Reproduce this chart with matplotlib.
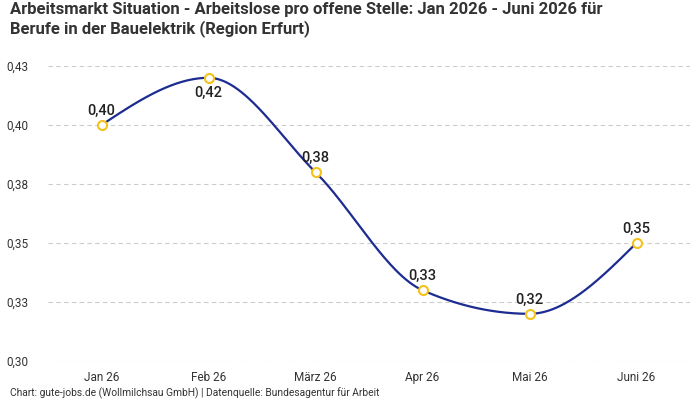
import matplotlib
matplotlib.use("Agg")
import matplotlib.pyplot as plt
import numpy as np

categories = ["Jan 26", "Feb 26", "März 26", "Apr 26", "Mai 26", "Juni 26"]
values = [0.400, 0.420, 0.380, 0.330, 0.320, 0.350]
labels = ["0,40", "0,42", "0,38", "0,33", "0,32", "0,35"]
yticks = [0.300, 0.325, 0.350, 0.375, 0.400, 0.425]
ytick_labels = ["0,30", "0,33", "0,35", "0,38", "0,40", "0,43"]
title = "Arbeitsmarkt Situation - Arbeitslose pro offene Stelle: Jan 2026 - Juni 2026 für\nBerufe in der Bauelektrik (Region Erfurt)"
footer = "Chart: gute-jobs.de (Wollmilchsau GmbH) | Datenquelle: Bundesagentur für Arbeit"

plt.rcParams['font.family'] = ['Roboto', 'DejaVu Sans']


def monotone(x, y, n=60):
    x = np.asarray(x, float); y = np.asarray(y, float)
    h = np.diff(x); s = np.diff(y) / h
    m = np.zeros_like(y)
    for i in range(1, len(y) - 1):
        p = (s[i-1] * h[i] + s[i] * h[i-1]) / (h[i-1] + h[i])
        m[i] = (np.sign(s[i-1]) + np.sign(s[i])) * min(abs(s[i-1]), abs(s[i]), 0.5 * abs(p))
    m[0] = (3 * s[0] - m[1]) / 2
    m[-1] = (3 * s[-1] - m[-2]) / 2
    xs, ys = [], []
    for i in range(len(h)):
        t = np.linspace(0, 1, n)
        h00 = 2*t**3 - 3*t**2 + 1; h10 = t**3 - 2*t**2 + t
        h01 = -2*t**3 + 3*t**2; h11 = t**3 - t**2
        xs.append(x[i] + t * h[i])
        ys.append(h00*y[i] + h10*h[i]*m[i] + h01*y[i+1] + h11*h[i]*m[i+1])
    return np.concatenate(xs), np.concatenate(ys)


fig = plt.figure(figsize=(7, 4), dpi=100)
ax = fig.add_axes([48/700, 39/400, 642/700, 295/400])
x = np.arange(len(categories))
cx, cy = monotone(x, values)
ax.plot(cx, cy, color="#1c2c90", lw=1.6, zorder=2)
ax.plot(x, values, "o", ms=6.5, mfc="white", mec="#f5c21b", mew=1.5, zorder=3)
for i, (v, lab) in enumerate(zip(values, labels)):
    off = -6 if i == 1 else 5
    va = "top" if i == 1 else "bottom"
    ax.annotate(lab, (x[i], v), xytext=(0, off), textcoords="offset points",
                ha="center", va=va, fontsize=10.5, color="#222222", fontweight="medium")

ax.set_xlim(-0.5, len(categories) - 0.5)
ax.set_ylim(0.300, 0.425)
ax.set_yticks(yticks)
ax.set_yticklabels(ytick_labels)
ax.set_xticks(x)
ax.set_xticklabels(categories)
ax.tick_params(length=0, labelsize=8.5, colors="#333333")
ax.tick_params(axis="y", pad=14)
ax.tick_params(axis="x", pad=7)
for sp in ax.spines.values():
    sp.set_visible(False)
ax.grid(axis="y", color="#cccccc", ls=(0, (4, 3)), lw=0.8)
ax.set_axisbelow(True)

fig.text(10/700, 1 - 2/400, title, ha="left", va="top", fontsize=12,
         fontweight="bold", color="#333333", linespacing=1.2)
fig.text(10/700, 7/400, footer, ha="left", va="center", fontsize=7.4, color="#333333")

fig.savefig("out.png", dpi=100)
